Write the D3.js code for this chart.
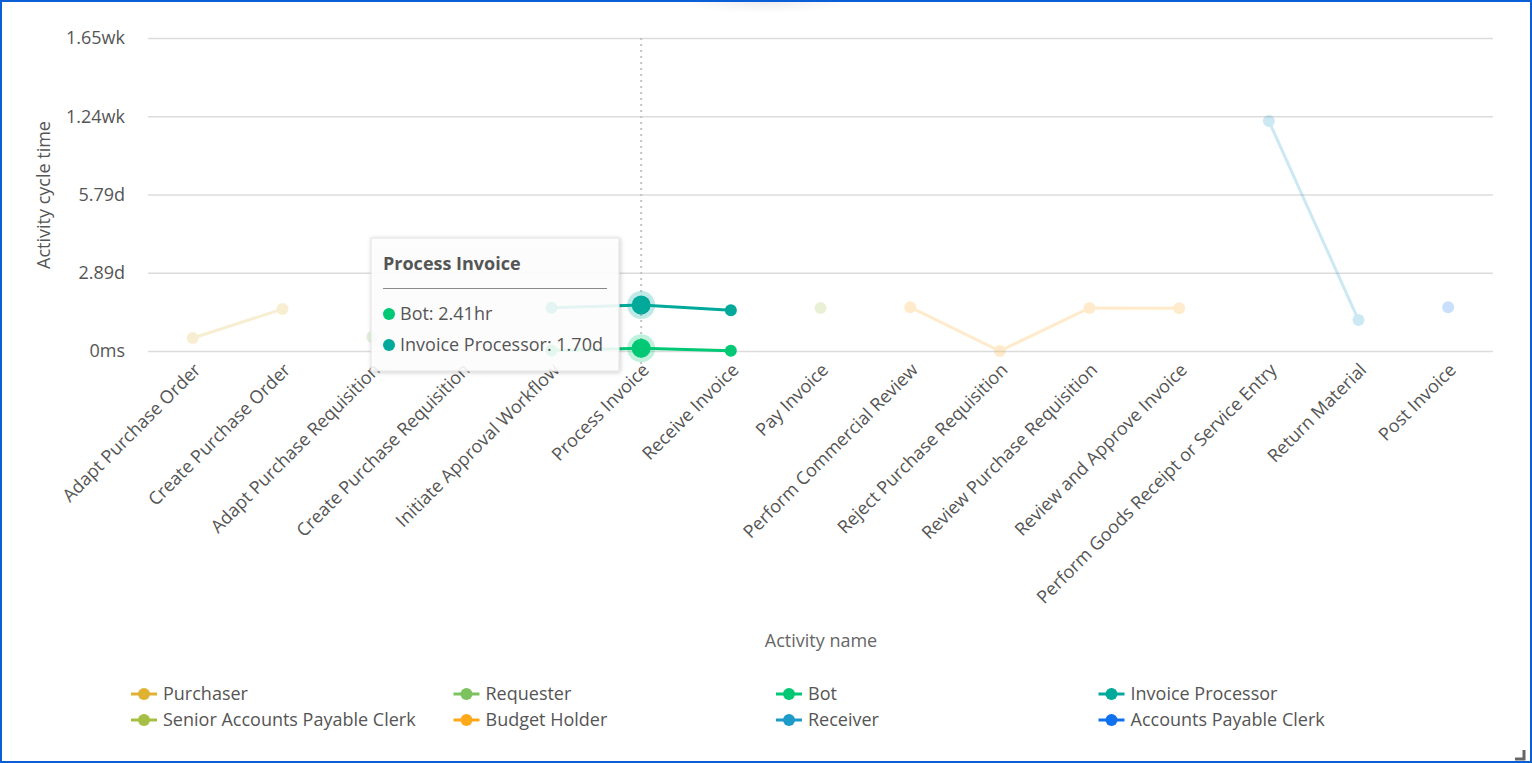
<!DOCTYPE html>
<html>
<head>
<meta charset="utf-8">
<script src="https://cdn.jsdelivr.net/npm/d3@7"></script>
<style>
  html, body { margin: 0; padding: 0; background: #fff; }
  body { width: 1532px; height: 763px; overflow: hidden; }
  svg { display: block; font-family: "Open Sans", "Noto Sans", sans-serif; }
</style>
</head>
<body>
<svg id="chart" width="1532" height="763"></svg>
<script>
// activities on the x axis
const activities = [
  'Adapt Purchase Order', 'Create Purchase Order', 'Adapt Purchase Requisition',
  'Create Purchase Requisition', 'Initiate Approval Workflow', 'Process Invoice',
  'Receive Invoice', 'Pay Invoice', 'Perform Commercial Review',
  'Reject Purchase Requisition', 'Review Purchase Requisition', 'Review and Approve Invoice',
  'Perform Goods Receipt or Service Entry', 'Return Material', 'Post Invoice'
];

// roles (legend order) and colours
const roles = [
  'Purchaser', 'Requester', 'Bot', 'Invoice Processor',
  'Senior Accounts Payable Clerk', 'Budget Holder', 'Receiver', 'Accounts Payable Clerk'
];
const roleColors = ['#dfb232', '#7cc35f', '#00c875', '#00a99a', '#a5bf45', '#ffa81a', '#1d9bc8', '#1170ee'];

// cycle time in seconds, per role: [activity, seconds]
const purchaser = [['Adapt Purchase Order', 41500], ['Create Purchase Order', 134000]];
const requester = [['Adapt Purchase Requisition', 45000]];
const bot = [['Initiate Approval Workflow', 1500], ['Process Invoice', 8676], ['Receive Invoice', 1000]];
const invoiceProcessor = [['Initiate Approval Workflow', 138000], ['Process Invoice', 146880], ['Receive Invoice', 130500]];
const seniorApClerk = [['Pay Invoice', 137000]];
const budgetHolder = [['Perform Commercial Review', 140000], ['Reject Purchase Requisition', 0],
  ['Review Purchase Requisition', 137500], ['Review and Approve Invoice', 136500]];
const receiver = [['Perform Goods Receipt or Service Entry', 735000], ['Return Material', 99000]];
const apClerk = [['Post Invoice', 140000]];

const seriesValues = [purchaser, requester, bot, invoiceProcessor, seniorApClerk, budgetHolder, receiver, apClerk];

const yTicks = [0, 250000, 500000, 750000, 1000000];

// hovered state shown in the picture
const hoverActivity = 'Process Invoice';
const activeRoles = ['Bot', 'Invoice Processor'];

const fmtDuration = (s) => {
  if (s === 0) return '0ms';
  if (s >= 604800) return (s / 604800).toFixed(2) + 'wk';
  if (s >= 86400) return (s / 86400).toFixed(2) + 'd';
  if (s >= 3600) return (s / 3600).toFixed(2) + 'hr';
  return (s / 60).toFixed(2) + 'min';
};

const svg = d3.select('#chart');
const mLeft = 148, mRight = 1493, mTop = 38, mBottom = 351;
const FS = '18px';

const x = d3.scaleBand().domain(activities).range([mLeft, mRight]);
const y = d3.scaleLinear().domain([0, 1000000]).range([mBottom, mTop]);
const color = d3.scaleOrdinal().domain(roles).range(roleColors);

// top shadow blob
const defs = svg.append('defs');
const grad = defs.append('radialGradient').attr('id', 'blob');
grad.append('stop').attr('offset', '0%').attr('stop-color', '#000').attr('stop-opacity', 0.07);
grad.append('stop').attr('offset', '100%').attr('stop-color', '#000').attr('stop-opacity', 0);
svg.append('ellipse').attr('cx', 765).attr('cy', 2).attr('rx', 85).attr('ry', 11).attr('fill', 'url(#blob)');

// grid
svg.append('g')
  .selectAll('line')
  .data(yTicks)
  .join('line')
  .attr('x1', mLeft).attr('x2', mRight)
  .attr('y1', (d) => y(d) + 0.5).attr('y2', (d) => y(d) + 0.5)
  .attr('stroke', '#dcdcdc').attr('stroke-width', 1.3);

// y axis labels
const yAxis = svg.append('g')
  .attr('transform', `translate(${mLeft - 23},0)`)
  .call(d3.axisLeft(y).tickValues(yTicks).tickFormat(fmtDuration).tickSize(0).tickPadding(0))
  .attr('font-family', null).attr('font-size', null);
yAxis.select('.domain').remove();
yAxis.selectAll('text')
  .attr('fill', '#555').style('font-size', FS).attr('dy', '0.33em');

svg.append('text')
  .attr('transform', `translate(50,195) rotate(-90)`)
  .attr('text-anchor', 'middle')
  .attr('fill', '#555')
  .style('font-size', FS)
  .text('Activity cycle time');

// x axis labels
const xAxis = svg.append('g')
  .attr('transform', `translate(0,${mBottom + 12})`)
  .call(d3.axisBottom(x).tickSize(0).tickPadding(0))
  .attr('font-family', null).attr('font-size', null);
xAxis.select('.domain').remove();
xAxis.selectAll('text')
  .attr('fill', '#555')
  .style('font-size', FS)
  .attr('text-anchor', 'end')
  .attr('dy', 0)
  .attr('transform', 'translate(9,8) rotate(-45)');

svg.append('text')
  .attr('x', 821).attr('y', 647)
  .attr('text-anchor', 'middle')
  .attr('fill', '#666')
  .style('font-size', FS)
  .text('Activity name');

// crosshair
svg.append('line')
  .attr('x1', x(hoverActivity) + x.bandwidth() / 2).attr('x2', x(hoverActivity) + x.bandwidth() / 2)
  .attr('y1', mTop).attr('y2', 372)
  .attr('stroke', '#c4c4c4').attr('stroke-width', 2).attr('stroke-dasharray', '2,4');

// series
const cx = (a) => x(a) + x.bandwidth() / 2;
const line = d3.line().x((d) => cx(d[0])).y((d) => y(d[1]));

const series = roles.map((r, i) => ({ role: r, values: seriesValues[i] }));
const order = series.filter((s) => !activeRoles.includes(s.role))
  .concat(series.filter((s) => activeRoles.includes(s.role)));

const gS = svg.append('g')
  .selectAll('g')
  .data(order)
  .join('g')
  .attr('opacity', (s) => activeRoles.includes(s.role) ? 1 : 0.22);

gS.append('path')
  .attr('d', (s) => line(s.values))
  .attr('fill', 'none')
  .attr('stroke', (s) => color(s.role))
  .attr('stroke-width', 3);

gS.each(function (s) {
  const g = d3.select(this);
  const active = activeRoles.includes(s.role);
  s.values.forEach((d) => {
    const hot = active && d[0] === hoverActivity;
    if (hot) {
      g.append('circle').attr('cx', cx(d[0])).attr('cy', y(d[1])).attr('r', 14)
        .attr('fill', color(s.role)).attr('opacity', 0.25);
    }
    g.append('circle').attr('cx', cx(d[0])).attr('cy', y(d[1]))
      .attr('r', hot ? 9.5 : 6)
      .attr('fill', color(s.role));
  });
});

// tooltip
const tip = svg.append('g').attr('transform', 'translate(371,238)');
defs.append('filter').attr('id', 'shadow').attr('x', '-10%').attr('y', '-10%').attr('width', '130%').attr('height', '130%')
  .append('feDropShadow').attr('dx', 1).attr('dy', 1).attr('stdDeviation', 2)
  .attr('flood-color', '#000').attr('flood-opacity', 0.22);
tip.append('rect')
  .attr('width', 248).attr('height', 133)
  .attr('fill', 'rgba(255,255,255,0.88)')
  .attr('stroke', '#e2e2e2')
  .attr('filter', 'url(#shadow)');
tip.append('text')
  .attr('x', 12).attr('y', 32)
  .attr('fill', '#555')
  .style('font-size', FS).style('font-weight', 'bold')
  .text(hoverActivity);
tip.append('line')
  .attr('x1', 12).attr('x2', 236).attr('y1', 50.5).attr('y2', 50.5)
  .attr('stroke', '#888').attr('stroke-width', 1);
activeRoles.forEach((r, i) => {
  const s = series.find((d) => d.role === r);
  const v = s.values.find((d) => d[0] === hoverActivity)[1];
  tip.append('circle').attr('cx', 18).attr('cy', 76 + i * 31).attr('r', 6).attr('fill', color(r));
  tip.append('text')
    .attr('x', 29).attr('y', 82 + i * 31)
    .attr('fill', '#555')
    .style('font-size', FS)
    .text(`${r}: ${fmtDuration(v)}`);
});

// legend
const legend = svg.append('g')
  .selectAll('g')
  .data(roles)
  .join('g')
  .attr('transform', (d, i) => `translate(${131 + (i % 4) * 322.5},${694 + Math.floor(i / 4) * 26})`);
legend.append('line').attr('x1', 0).attr('x2', 26).attr('stroke', (d) => color(d)).attr('stroke-width', 3);
legend.append('circle').attr('cx', 13).attr('r', 6).attr('fill', (d) => color(d));
legend.append('text')
  .attr('x', 32).attr('dy', '0.35em')
  .attr('fill', '#555')
  .style('font-size', FS)
  .text((d) => d);

// frame and resize handle
svg.append('rect').attr('x', 1).attr('y', 1).attr('width', 1530).attr('height', 761)
  .attr('fill', 'none').attr('stroke', '#0a5fd6').attr('stroke-width', 2);
svg.append('line').attr('x1', 0).attr('x2', 1532).attr('y1', 1).attr('y2', 1).attr('stroke', '#0a5fd6').attr('stroke-width', 2);
svg.append('path').attr('d', 'M1515,759 H1524 V750').attr('fill', 'none').attr('stroke', '#666').attr('stroke-width', 3);
</script>
</body>
</html>
